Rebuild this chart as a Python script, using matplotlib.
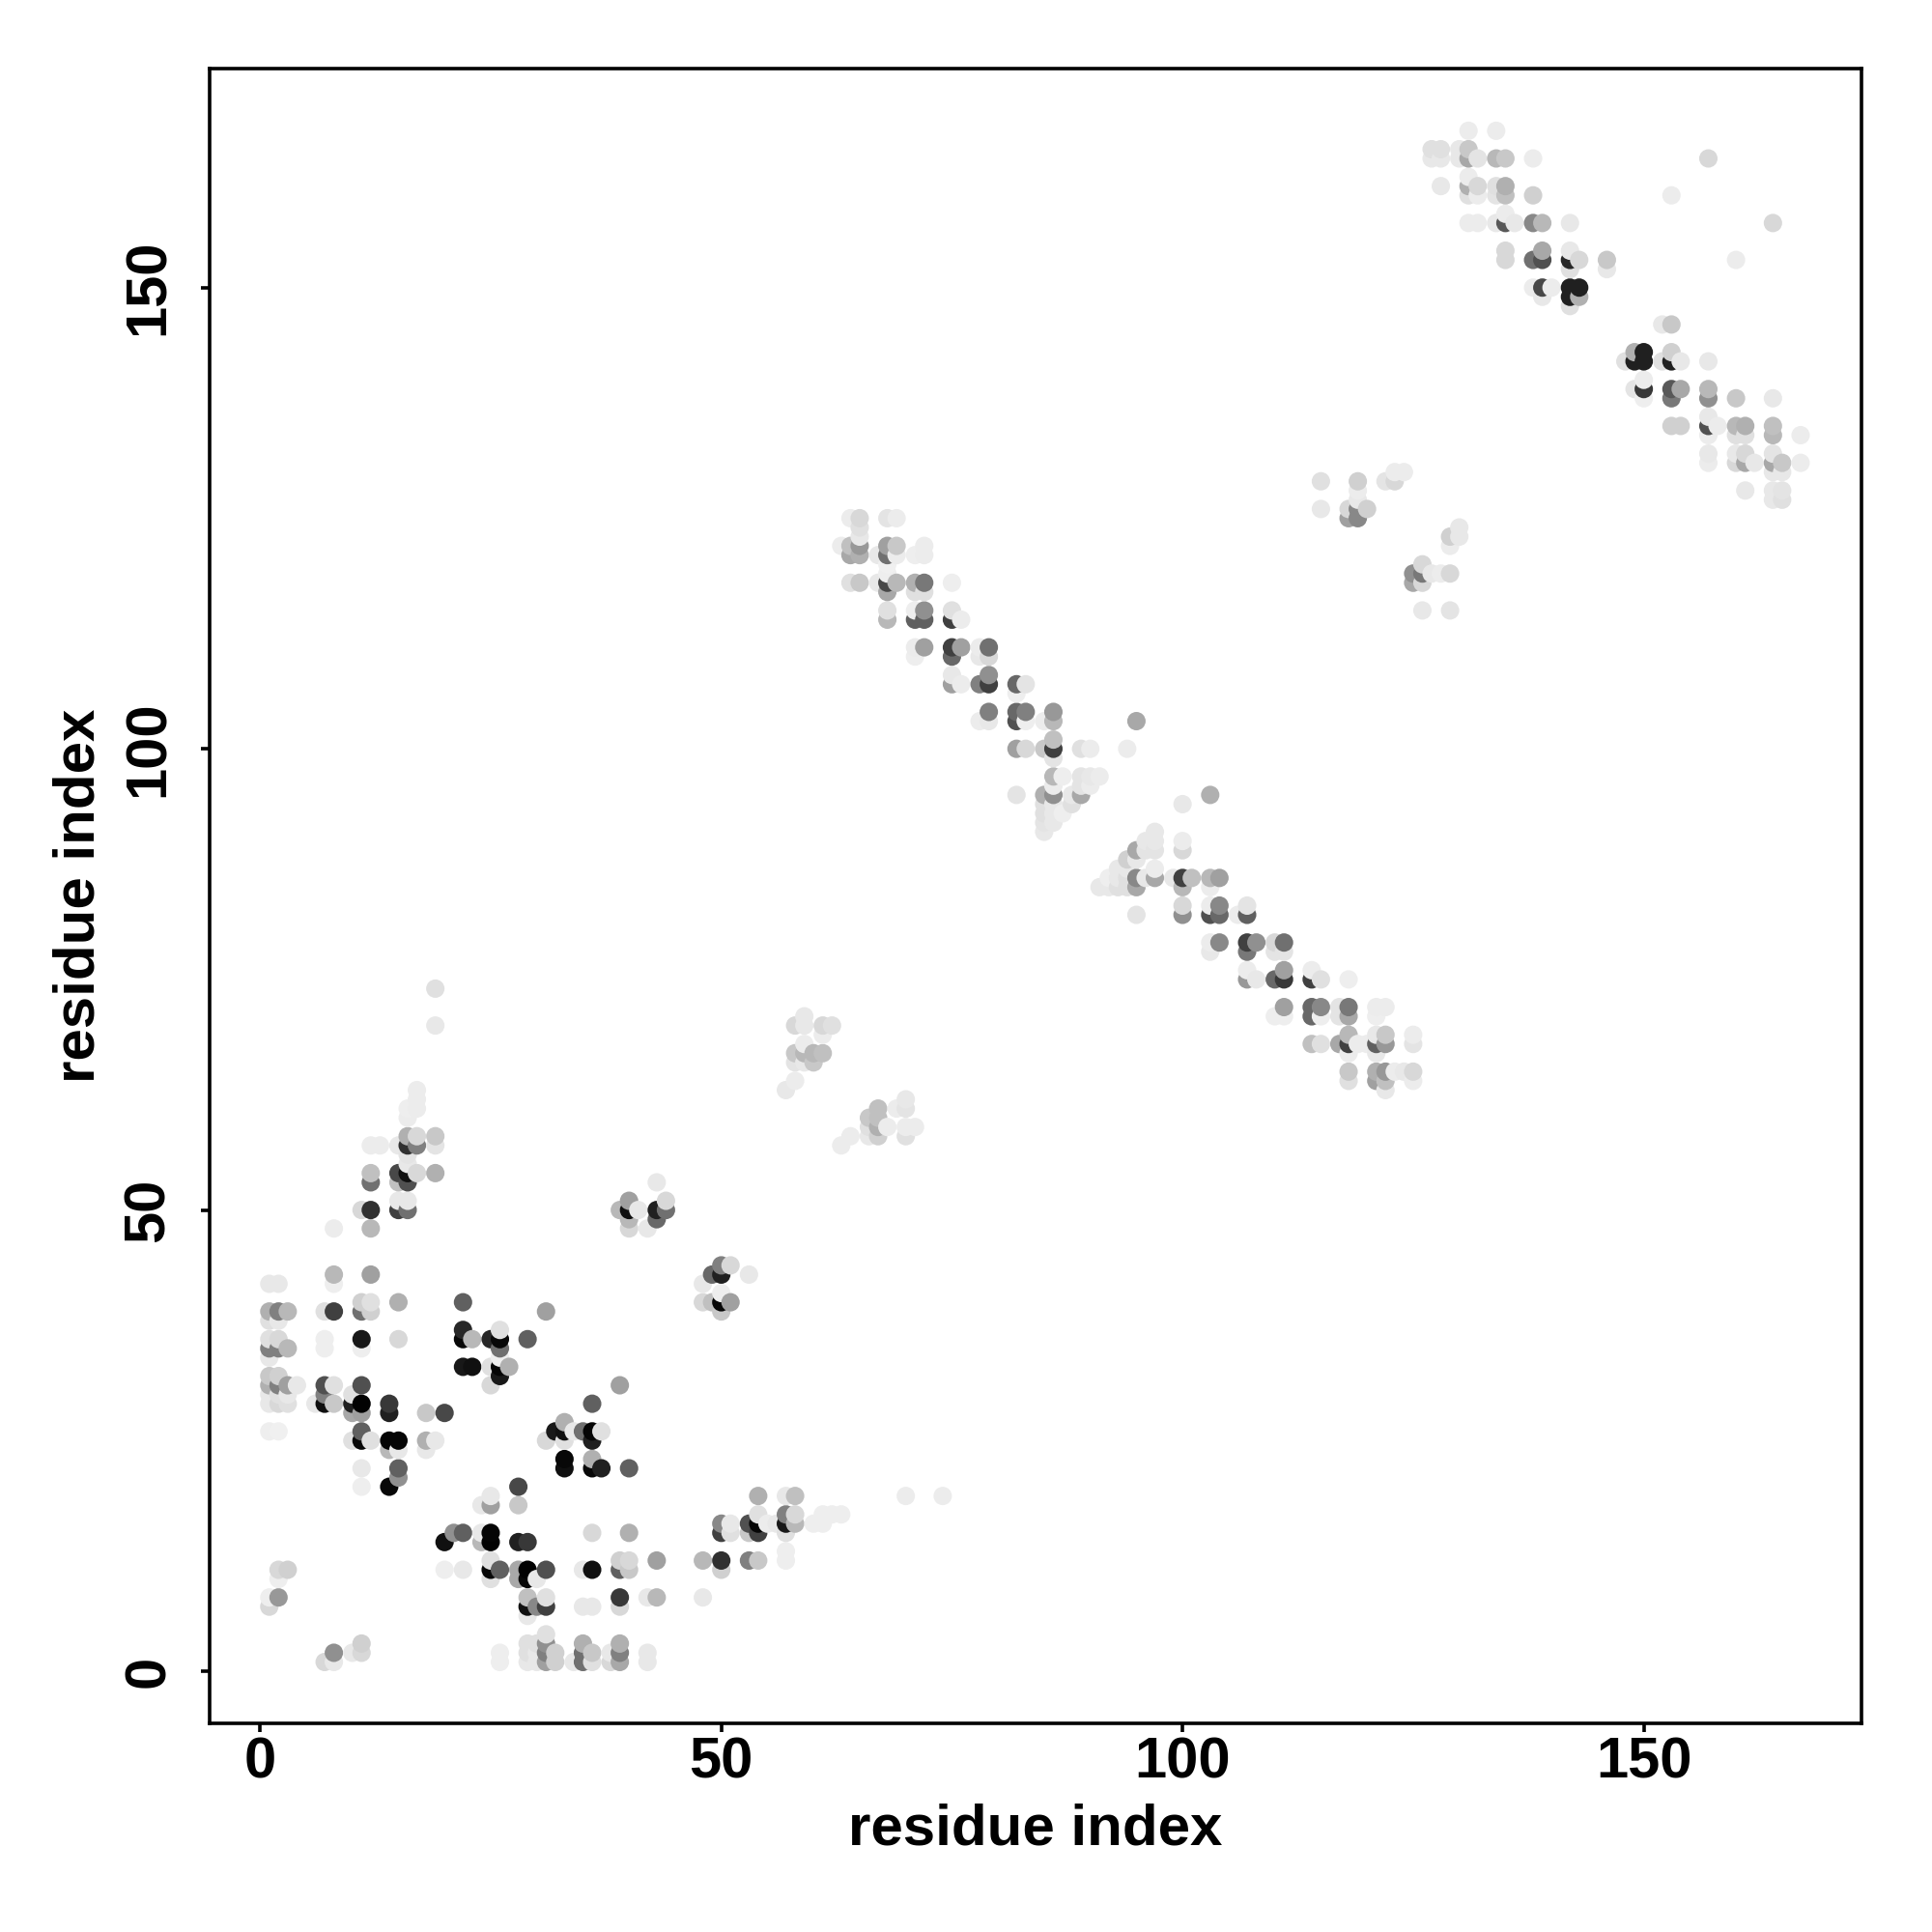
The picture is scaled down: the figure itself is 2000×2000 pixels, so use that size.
import matplotlib
matplotlib.use('Agg')
import matplotlib.pyplot as plt

# contacts as (residue i, residue j, gray level 0-255), grouped by region of the map
block_bottom = [
    (7,1,0xd8),(8,1,0xe8),(8,2,0x90),(10,2,0xe8),(11,2,0xd8),(11,3,0xd0),(26,1,0xee),(26,2,0xee),
    (29,1,0xe8),(30,1,0xe8),(31,1,0xa0),(32,1,0xd0),(34,1,0xe8),(35,1,0x70),(36,1,0xe0),(38,1,0xd8),(39,1,0xa8),(42,1,0xe8),
    (29,2,0xe0),(30,2,0xe8),(31,2,0x80),(32,2,0xd0),(35,2,0x70),(36,2,0xc8),(38,2,0xe8),(39,2,0x80),(42,2,0xe8),
    (29,3,0xe0),(30,3,0xe0),(31,3,0x90),(35,3,0xb0),(39,3,0xb0),(31,4,0xe0),
    (29,6,0xe8),(1,7,0xd8),(29,7,0x10),(30,7,0x88),(31,7,0x40),(35,7,0xe8),(36,7,0xe8),(39,7,0xd8),
    (1,8,0xee),(2,8,0x98),(29,8,0xc0),(31,8,0xe0),(39,8,0x38),(42,8,0xe8),(43,8,0xb8),(48,8,0xe8),
    (2,10,0xee),(25,10,0xe0),(28,10,0xa8),(29,10,0x08),(30,10,0xe8),
    (2,11,0xd8),(3,11,0xd0),(20,11,0xee),(22,11,0xe8),(25,11,0x08),(26,11,0x60),(28,11,0xa8),(29,11,0x02),(31,11,0x50),
    (35,11,0xe8),(36,11,0x10),(39,11,0x60),(40,11,0xc8),(50,11,0xd0),
    (25,12,0xe0),(39,12,0xd0),(40,12,0xd8),(43,12,0xa0),(48,12,0xb8),(50,12,0x30),(53,12,0x80),(54,12,0xc8),(57,12,0xee),(57,13,0xee),
    (20,14,0x10),(24,14,0xb8),(25,14,0x02),(28,14,0x20),(29,14,0x38),
    (21,15,0x90),(22,15,0x60),(24,15,0xe8),(25,15,0x05),(36,15,0xd8),(40,15,0xb0),(50,15,0x40),(51,15,0xe0),(53,15,0xc8),(54,15,0x40),(57,15,0xe0),
    (50,16,0x88),(51,16,0xe8),(53,16,0x50),(54,16,0x05),(55,16,0xec),(56,16,0xe8),(57,16,0x18),(58,16,0xb8),(60,16,0xee),(61,16,0xee),
    (54,17,0xe0),(57,17,0x80),(58,17,0xd8),(61,17,0xee),(62,17,0xee),(63,17,0xee),
    (24,18,0xe8),(25,18,0xa0),(28,18,0xc8),(25,19,0xe8),(54,19,0xb0),(57,19,0xe8),(58,19,0xc0),(70,19,0xec),(74,19,0xec),
]
block_middle = [
    (11,20,0xee),(14,20,0x08),(28,20,0x48),(15,21,0x90),(11,22,0xe8),(15,22,0x60),
    (33,22,0x10),(36,22,0x08),(37,22,0x20),(40,22,0x60),(33,23,0x08),(36,23,0xb0),
    (14,24,0xb8),(15,24,0xe8),(18,24,0xe8),(10,25,0xe0),(11,25,0x08),(12,25,0xe0),(14,25,0x05),(15,25,0x05),(18,25,0xb0),(19,25,0xe8),
    (31,25,0xd8),(33,25,0xe0),(36,25,0x20),(1,26,0xee),(2,26,0xf0),(11,26,0x60),
    (32,26,0x18),(33,26,0x10),(34,26,0xe8),(35,26,0x70),(36,26,0x05),(37,26,0xe0),(33,27,0xb0),
    (10,28,0xa8),(11,28,0xa0),(14,28,0x20),(18,28,0xc8),(20,28,0x48),
    (1,29,0xe8),(2,29,0xd8),(3,29,0xe0),(6,29,0xe8),(7,29,0x10),(8,29,0xc8),(10,29,0x20),(11,29,0x02),(14,29,0x38),(36,29,0x60),
    (1,30,0xe8),(2,30,0xe0),(3,30,0xe8),(7,30,0x80),(10,30,0xe0),
    (1,31,0xb0),(2,31,0x80),(3,31,0xa0),(4,31,0xe8),(7,31,0x50),(8,31,0xe0),(11,31,0x50),(25,31,0xd8),(39,31,0xa0),
    (1,32,0xc8),(2,32,0xd0),(26,32,0x18),(22,33,0x18),(23,33,0x10),(25,33,0xe0),(26,33,0x05),(27,33,0xb0),
    (1,34,0xe8),(26,34,0xee),(1,35,0x80),(2,35,0x80),(3,35,0xb8),(7,35,0xee),(11,35,0xee),(26,35,0x70),
    (1,36,0xe0),(2,36,0xd8),(7,36,0xee),(11,36,0x18),(15,36,0xd8),(22,36,0x08),(23,36,0xb8),(25,36,0x28),(26,36,0x08),(29,36,0x60),
    (22,37,0x28),(26,37,0xe0),(1,38,0xe0),(2,38,0xe8),
    (1,39,0xb0),(2,39,0x80),(3,39,0xb8),(7,39,0xe0),(8,39,0x40),(11,39,0x70),(12,39,0xd0),(31,39,0xa0),
    (11,40,0xd0),(12,40,0xe0),(15,40,0xb0),(22,40,0x60),(1,42,0xe8),(2,42,0xe8),(8,42,0xee),(8,43,0xb8),(12,43,0xa0),
    (50,39,0xc8),(48,40,0xd8),(49,40,0xc0),(50,40,0x08),(51,40,0xa0),(50,41,0xee),(48,42,0xe8),
    (49,43,0x68),(50,43,0x20),(53,43,0xe8),(50,44,0x80),(51,44,0xd8),
]
block_upper_left = [
    (8,48,0xec),(12,48,0xb8),(11,50,0xd8),(12,50,0x30),(15,50,0x40),(16,50,0x70),(15,51,0xe8),(16,51,0xe8),
    (12,53,0x70),(15,53,0xc0),(16,53,0x50),(12,54,0xc0),(15,54,0x48),(16,54,0x10),(17,54,0xd8),(19,54,0xb0),
    (16,55,0xe8),(16,56,0xe4),(12,57,0xec),(13,57,0xec),(15,57,0xe8),(16,57,0x30),(17,57,0x80),(19,57,0xe4),
    (16,58,0xb0),(17,58,0xd8),(19,58,0xc8),(16,60,0xec),(16,61,0xee),(17,61,0xec),(17,62,0xec),(17,63,0xec),(19,70,0xe8),(19,74,0xe0),
    (40,48,0xd8),(42,48,0xe8),(40,49,0xb8),(43,49,0x68),(39,50,0xb8),(40,50,0x10),(41,50,0xe8),(43,50,0x20),(44,50,0x70),
    (40,51,0xa0),(44,51,0xd8),(43,53,0xe8),
    (57,63,0xe8),(58,64,0xec),(58,66,0xe4),(59,66,0xe8),(60,66,0xc8),(58,67,0xc8),(59,67,0xb8),(60,67,0xb8),(61,67,0xc0),
    (59,68,0xec),(61,69,0xec),(58,70,0xd8),(59,70,0xe8),(61,70,0xd8),(62,70,0xe0),(59,71,0xe8),
    (63,57,0xec),(64,58,0xec),(66,58,0xe8),(67,58,0xd0),(70,58,0xe0),(66,59,0xe0),(67,59,0xb0),(68,59,0xec),(70,59,0xec),(71,59,0xec),
    (66,60,0xc8),(67,60,0xc0),(67,61,0xc0),(69,61,0xec),(70,61,0xe4),(70,62,0xe8),
]
diagonal_upper = [
    (64,125,0xec),(65,125,0xd8),(68,125,0xe4),(69,125,0xec),(65,124,0xe0),(65,123,0xe8),
    (63,122,0xec),(64,122,0xc0),(65,122,0x98),(68,122,0xa0),(69,122,0xc8),(72,122,0xec),
    (64,121,0xa8),(65,121,0xb0),(67,121,0xe8),(68,121,0x70),(69,121,0xec),(71,121,0xee),(72,121,0xec),
    (68,120,0xf0),(68,119,0xee),(64,118,0xe0),(65,118,0xc8),(67,118,0xe8),(68,118,0x48),(69,118,0xb8),(71,118,0xb0),(72,118,0x78),(75,118,0xee),
    (68,117,0xa8),(71,117,0xe0),(72,117,0xe0),(68,115,0xe0),(71,115,0xee),(72,115,0x90),(75,115,0xe0),
    (68,114,0xb8),(71,114,0x60),(72,114,0x60),(75,114,0x40),(76,114,0xec),
    (71,111,0xec),(72,111,0xa0),(75,111,0x40),(76,111,0xa0),(78,111,0xec),(79,111,0x70),
    (71,110,0xee),(75,110,0x68),(78,110,0xe8),(79,110,0xd8),(75,108,0xe8),(79,108,0x90),
    (75,107,0xa0),(76,107,0xec),(78,107,0x80),(79,107,0x40),(82,107,0x68),(83,107,0xe4),(82,106,0xee),
    (79,104,0x80),(82,104,0x68),(83,104,0x80),(86,104,0x98),
    (78,103,0xec),(79,103,0xe8),(82,103,0x50),(83,103,0xee),(85,103,0xec),(86,103,0xb8),(95,103,0xa8),
    (86,101,0xc0),(82,100,0xa0),(83,100,0xd8),(85,100,0xc8),(86,100,0x40),(89,100,0xe0),(90,100,0xec),(94,100,0xec),(86,99,0xe4),
    (86,97,0xb8),(87,97,0xee),(89,97,0xe4),(90,97,0xe8),(91,97,0xec),(86,96,0xec),(89,96,0xe4),(90,96,0xec),
    (82,95,0xe4),(85,95,0xb0),(86,95,0x90),(88,95,0xe8),(89,95,0xa8),(103,95,0xb0),
    (85,94,0xe0),(86,94,0xe8),(88,94,0xe0),(100,94,0xe8),(85,93,0xe0),(86,93,0xe8),(87,93,0xee),(85,92,0xe4),(86,92,0xe8),(85,91,0xe8),
]
diagonal_lower = [
    (97,91,0xe8),(96,90,0xe8),(97,90,0xe8),(100,90,0xec),(95,89,0xa8),(96,89,0xe4),(97,89,0xe4),(100,89,0xd8),
    (94,88,0xd0),(95,88,0xe8),(93,87,0xe8),(94,87,0xe8),(97,87,0xec),
    (92,86,0xee),(93,86,0xe8),(94,86,0xe0),(95,86,0x88),(96,86,0xe8),(97,86,0xa8),(99,86,0xe8),(100,86,0x40),(101,86,0xc0),(103,86,0xb8),(104,86,0xa0),
    (91,85,0xe8),(92,85,0xe8),(93,85,0xe0),(94,85,0xe0),(95,85,0xa8),(100,85,0xb8),(103,85,0xec),
    (100,83,0xd8),(103,83,0xec),(104,83,0x88),(107,83,0xe4),
    (95,82,0xe4),(100,82,0x90),(103,82,0x50),(104,82,0x68),(106,82,0xec),(107,82,0x60),
    (103,79,0xec),(104,79,0x88),(107,79,0x40),(108,79,0x90),(110,79,0xd8),(111,79,0x70),
    (103,78,0xe8),(107,78,0x78),(110,78,0xe4),(111,78,0xe4),(107,76,0xec),(111,76,0xa0),(114,76,0xec),
    (107,75,0x98),(108,75,0xe8),(110,75,0x68),(111,75,0x38),(114,75,0x40),(115,75,0xe0),(118,75,0xee),
    (111,72,0xa0),(114,72,0x68),(115,72,0x88),(117,72,0xe4),(118,72,0x78),(121,72,0xec),(122,72,0xec),
    (110,71,0xee),(111,71,0xee),(114,71,0x68),(115,71,0xee),(117,71,0xe4),(118,71,0xa8),(121,71,0xee),
    (118,69,0xb8),(121,69,0xe8),(122,69,0xc8),(125,69,0xec),
    (114,68,0xc0),(115,68,0xe0),(117,68,0xa8),(118,68,0x40),(119,68,0xec),(120,68,0xec),(121,68,0x60),(122,68,0x98),(125,68,0xe4),
    (118,67,0xec),(121,67,0xe8),(118,65,0xc8),(121,65,0xb0),(122,65,0x98),(123,65,0xec),(124,65,0xe8),(125,65,0xd8),
    (118,64,0xe0),(121,64,0xa0),(122,64,0xc0),(125,64,0xec),(122,63,0xe8),
]
block_top_right = [
    (115,129,0xe0),(119,129,0xd0),(122,129,0xe4),(123,129,0xd8),(123,130,0xec),(124,130,0xec),(119,128,0xec),(119,127,0xe8),
    (115,126,0xe8),(118,126,0xd8),(119,126,0x88),(120,126,0xd0),(118,125,0xa0),(119,125,0x88),
    (126,120,0xd8),(125,119,0x90),(126,119,0x78),(127,119,0xe8),(128,119,0xec),(129,119,0xd8),(125,118,0xa8),(126,118,0xd8),
    (126,115,0xe8),(129,115,0xe4),(129,123,0xd0),(130,124,0xe8),(130,123,0xe8),(129,122,0xec),
    (131,167,0xec),(134,167,0xec),(127,165,0xe0),(128,165,0xe0),(130,165,0xe8),(131,165,0xc8),
    (127,164,0xe8),(128,164,0xe8),(130,164,0xe8),(131,164,0xa8),(132,164,0xe4),(134,164,0xb8),(135,164,0xc8),(138,164,0xec),(157,164,0xd8),
    (131,162,0xec),(128,161,0xe8),(131,161,0xb0),(132,161,0xd8),(134,161,0xe0),(135,161,0xb0),
    (131,160,0xe0),(132,160,0xec),(134,160,0xe4),(135,160,0xc0),(138,160,0xd0),(153,160,0xec),(135,158,0xec),
    (131,157,0xec),(132,157,0xec),(134,157,0xe8),(135,157,0x58),(136,157,0xe8),(138,157,0x88),(139,157,0xb8),(142,157,0xe8),(164,157,0xd8),
    (135,154,0xd8),(139,154,0xa8),(142,154,0xe8),(135,153,0xd8),(138,153,0x70),(139,153,0x50),(142,153,0x28),(143,153,0xd8),(146,153,0xc8),(160,153,0xec),
    (142,152,0xe0),(146,152,0xe8),(138,150,0xec),(139,150,0x48),(140,150,0xec),(142,150,0x20),(143,150,0x20),
    (139,149,0xe8),(142,149,0x20),(143,149,0xb0),(142,148,0xe0),(152,146,0xe8),(153,146,0xc8),
    (149,143,0xb0),(150,143,0x20),(153,143,0xd0),(148,142,0xe0),(149,142,0x20),(150,142,0x20),(152,142,0xe0),(153,142,0x20),(154,142,0xe8),(157,142,0xe8),
    (150,140,0xec),(149,139,0xe4),(150,139,0x38),(153,139,0x58),(154,139,0xa8),(157,139,0xb8),
    (150,138,0xee),(153,138,0x78),(157,138,0x90),(160,138,0xc8),(164,138,0xe8),(157,136,0xe8),
    (153,135,0xd0),(154,135,0xd0),(157,135,0x50),(158,135,0xec),(160,135,0xb8),(161,135,0xb0),(164,135,0xc0),
    (157,134,0xec),(160,134,0xe0),(161,134,0xe0),(164,134,0xb8),(167,134,0xec),
    (157,132,0xe8),(160,132,0xe8),(161,132,0xd8),(164,132,0xe4),
    (157,131,0xec),(160,131,0xd8),(161,131,0xa8),(162,131,0xe8),(164,131,0xa8),(165,131,0xc8),(167,131,0xec),
    (164,130,0xe8),(165,130,0xe8),(161,128,0xe8),(164,128,0xe8),(165,128,0xe4),(164,127,0xe8),(165,127,0xe0),
]
tick_values = [0, 50, 100, 150]

contacts = sorted(block_bottom + block_middle + block_upper_left + diagonal_upper + diagonal_lower + block_top_right,
                  key=lambda c: (c[0], c[1]))
xs = [c[0] for c in contacts]
ys = [c[1] for c in contacts]
colors = [str(c[2] / 255) for c in contacts]

plt.rcParams['font.family'] = ['Liberation Sans', 'DejaVu Sans']
plt.rcParams['font.weight'] = 'bold'

fig = plt.figure(figsize=(10, 10), dpi=200)
ax = fig.add_axes([216.7 / 2000, 1 - 1784 / 2000, (1927 - 216.7) / 2000, (1784 - 71.4) / 2000])
ax.scatter(xs, ys, s=47, c=colors, linewidths=0, zorder=2)
ax.set_xlim(-5.5, 173.6)
ax.set_ylim(-5.65, 173.7)

ax.set_xticks(tick_values)
ax.set_yticks(tick_values)
ax.tick_params(axis='both', length=3.3, width=1.3, labelsize=21.5)
ax.tick_params(axis='x', pad=1.5)
ax.tick_params(axis='y', pad=9.3)
plt.setp(ax.get_yticklabels(), rotation=90, va='center')
for spine in ax.spines.values():
    spine.set_linewidth(1.3)

ax.set_xlabel('residue index', fontsize=21.6, fontweight='bold', labelpad=5.2)
ax.set_ylabel('residue index', fontsize=21.6, fontweight='bold', labelpad=6.1)

fig.savefig('out.png', dpi=200, facecolor='white')
